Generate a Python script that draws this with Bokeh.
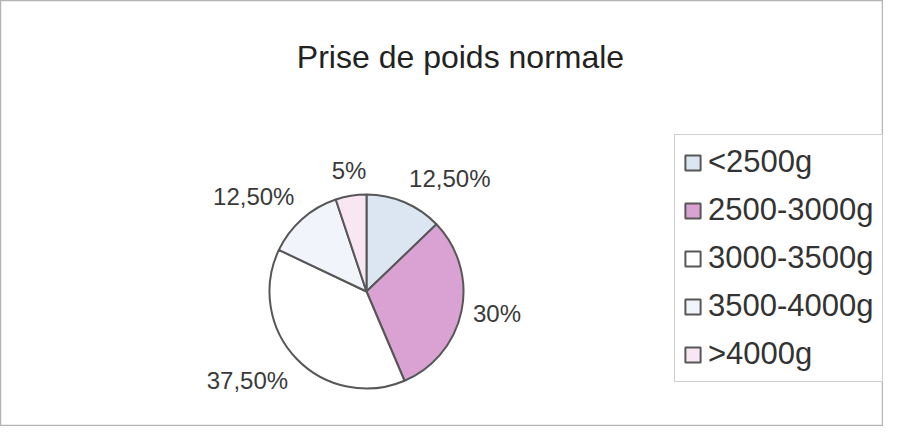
import math
from bokeh.plotting import figure
from bokeh.models import ColumnDataSource, Range1d, Label, Legend, LegendItem
from bokeh.core.properties import value
from bokeh.embed import file_html
from bokeh.resources import INLINE

# ---- data ----
categories = ["<2500g", "2500-3000g", "3000-3500g", "3500-4000g", ">4000g"]
values = [12.5, 30, 37.5, 12.5, 5]
value_labels = ["12,50%", "30%", "37,50%", "12,50%", "5%"]
colors = ["#dce6f2", "#d9a2d3", "#ffffff", "#f1f5fb", "#f8e7f3"]
title_text = "Prise de poids normale"

W, H = 883, 426
p = figure(width=W, height=H, output_backend="svg", toolbar_location=None,
           x_axis_type=None, y_axis_type=None, min_border=0,
           x_range=Range1d(0, W), y_range=Range1d(0, H))
p.grid.visible = False
p.outline_line_color = "#b4b4b4"
p.outline_line_width = 1.5
p.background_fill_color = "#ffffff"
p.border_fill_color = "#ffffff"

# pie geometry (layout)
cx, cy, R = 366, H - 291, 97
total = sum(values)
starts, ends, lx, ly, aligns, baselines = [], [], [], [], [], []
cum = 0.0
for v in values:
    a0 = cum / total * 2 * math.pi
    cum += v
    a1 = cum / total * 2 * math.pi
    starts.append(math.pi / 2 - a1)
    ends.append(math.pi / 2 - a0)
    mid = (a0 + a1) / 2
    s, c = math.sin(mid), math.cos(mid)
    rl = R * 1.12
    lx.append(cx + rl * s)
    ly.append(cy + rl * c)
    aligns.append("left" if s > 0.25 else ("right" if s < -0.25 else "center"))
    baselines.append("bottom" if c > 0.5 else ("top" if c < -0.5 else "middle"))

src = ColumnDataSource(dict(start=starts, end=ends, color=colors, cat=categories))
wr = p.wedge(x=cx, y=cy, radius=R, start_angle="start", end_angle="end",
             fill_color="color", line_color="#575757", line_width=2, source=src)

lsrc = ColumnDataSource(dict(x=lx, y=ly, t=value_labels, a=aligns, b=baselines))
p.text(x="x", y="y", text="t", text_align="a", text_baseline="b", source=lsrc,
       text_font=value("Liberation Sans"), text_font_size="24px", text_color="#3a3a3a")

p.add_layout(Label(x=460, y=H - 56, text=title_text, text_align="center",
                   text_baseline="alphabetic", text_font="Liberation Sans",
                   text_font_size="32px", text_color="#222222"))

items = [LegendItem(label=categories[i], renderers=[wr], index=i) for i in range(len(categories))]
legend = Legend(items=items, location=(674, H - 382), orientation="vertical",
                label_text_font="Liberation Sans", label_text_font_size="31px",
                label_text_color="#333333", glyph_width=19, glyph_height=19,
                label_height=38, label_standoff=6, spacing=10, padding=8, margin=0,
                border_line_color="#a0a0a0", border_line_width=1.5,
                background_fill_color="#ffffff", background_fill_alpha=1.0)
p.add_layout(legend)

open("out.html", "w").write(file_html(p, INLINE))
